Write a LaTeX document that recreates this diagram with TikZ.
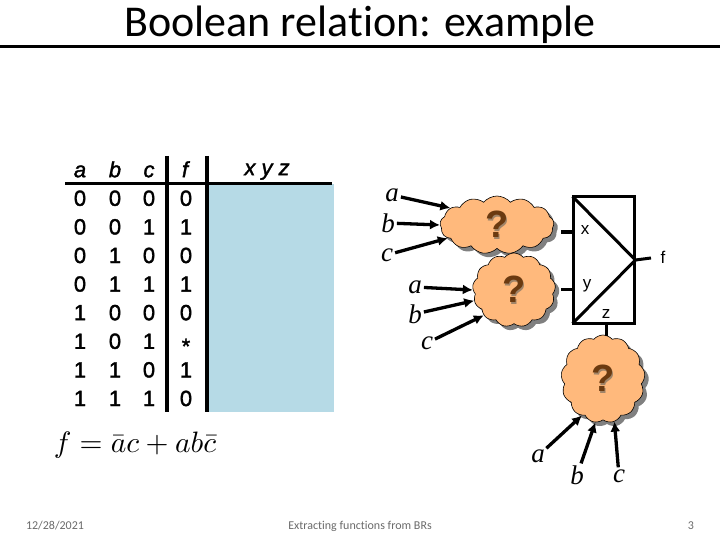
\documentclass[tikz,border=0pt]{standalone}
\usepackage{fontspec}
\usepackage{amsmath}
\setmainfont{Liberation Sans}
\newfontfamily\titlefont[Ligatures=NoCommon]{Carlito}
\newfontfamily\inputfont{Liberation Serif}
\newfontfamily\tablefont[FakeBold=1.6]{Liberation Sans}
\usetikzlibrary{arrows.meta,shapes.symbols,shadows}

\definecolor{puffcolor}{HTML}{FFB97C}
\definecolor{qcolor}{HTML}{6B3A10}
\definecolor{qshade}{HTML}{A08468}
\definecolor{tablecolor}{HTML}{B6DAE6}
\definecolor{footcolor}{HTML}{6A6A6A}

\newcommand{\qmark}{\makebox[0pt][l]{\hspace{1.5pt}\raisebox{-1.5pt}{\textcolor{qshade}{?}}}\textcolor{qcolor}{?}}

\tikzset{
  tablecol/.style={anchor=north, align=center, inner sep=0pt, font=\fontsize{22}{28.6}\selectfont\tablefont},
  heavy/.style={line width=3.5pt},
  puff/.style={cloud, draw=black, fill=puffcolor, line width=0.6pt, inner sep=0pt, cloud puff arc=100,
    font=\fontsize{38}{38}\selectfont\bfseries,
    drop shadow={shadow xshift=4pt, shadow yshift=-4pt, fill=black!50, opacity=1}},
  inputlabel/.style={font=\fontsize{27}{27}\selectfont\inputfont\itshape, inner sep=0pt},
  inarrow/.style={line width=3.3pt, -{Latex[length=10pt,width=10pt]}, shorten <=2pt},
  wire/.style={line width=3pt},
  pinlabel/.style={font=\fontsize{17}{17}\selectfont, inner sep=0pt},
  footer/.style={font=\fontsize{12}{12}\selectfont\titlefont, text=footcolor, inner sep=0pt}
}

\begin{document}
\begin{tikzpicture}[x=1pt, y=-1pt]
  \useasboundingbox (0,0) rectangle (720,540);

  % title
  \node[font=\fontsize{44}{44}\selectfont\titlefont, inner sep=0pt] (title) at (360,25) {Boolean relation: example};
  \coordinate (ruleleft) at (0,47);
  \coordinate (ruleright) at (720,47);
  \draw[line width=3pt] (ruleleft) -- (ruleright);

  % table
  \fill[tablecolor] (208,184) rectangle (334,412);
  \node[tablecol] (cola) at (80,157) {\strut\textit{a}\\0\\0\\0\\0\\1\\1\\1\\1};
  \node[tablecol] (colb) at (115,157) {\strut\textit{b}\\0\\0\\1\\1\\0\\0\\1\\1};
  \node[tablecol] (colc) at (149,157) {\strut\textit{c}\\0\\1\\0\\1\\0\\1\\0\\1};
  \node[tablecol] (colf) at (186,157) {\strut\textit{f}\\0\\1\\0\\1\\0\\\raisebox{-5pt}{*}\\1\\0};
  \node[tablecol] (colxyz) at (267,155) {\strut\textit{x y z}};
  \draw[heavy] (65,183.5) -- (332,183.5);
  \draw[heavy] (167,156) -- (167,412);
  \draw[heavy] (207,156) -- (207,412);
  \node[scale=2.95, inner sep=0pt] (eqn) at (135,445) {$f=\bar{a}c+ab\bar{c}$};

  % block
  \node[draw, line width=3pt, minimum width=61pt, minimum height=126pt, inner sep=0pt] (mux) at (603.5,260) {};
  \draw[wire, shorten <=1.5pt] (mux.north west) -- (mux.east);
  \draw[wire, shorten <=1.5pt] (mux.south west) -- (mux.east);
  \node[pinlabel] (xpin) at (585,230) {x};
  \node[pinlabel] (ypin) at (587,286) {y};
  \node[pinlabel] (zpin) at (606,314) {z};
  \node[pinlabel] (fout) at (663,257) {f};

  % clouds
  \node[puff, cloud puffs=13, aspect=2.2, minimum width=114pt, minimum height=58pt] (qone) at (497,225) {\qmark};
  \node[puff, cloud puffs=13, aspect=1.1, minimum width=83pt, minimum height=74pt] (qtwo) at (514,290) {\qmark};
  \node[puff, cloud puffs=13, aspect=1, minimum width=84pt, minimum height=88pt] (qthree) at (603,379) {\qmark};

  % wires into the block
  \coordinate (xstub) at (561,232);
  \coordinate (xend) at (573,232);
  \coordinate (ystub) at (561,289);
  \coordinate (yend) at (573,289);
  \coordinate (zstub) at (606,336);
  \coordinate (fend) at (651,258);
  \draw[wire] (xstub) -- (xend);
  \draw[wire] (ystub) -- (yend);
  \draw[wire] (mux.east) -- (fend);
  \draw[wire] (zstub) -- (zstub |- mux.south);

  % inputs
  \node[inputlabel] (aone) at (392,195) {a};
  \node[inputlabel] (bone) at (388,223) {b};
  \node[inputlabel] (cone) at (387,255) {c};
  \node[inputlabel] (atwo) at (415,287) {a};
  \node[inputlabel] (btwo) at (415,314) {b};
  \node[inputlabel] (ctwo) at (427,343) {c};
  \node[inputlabel] (athree) at (538,456) {a};
  \node[inputlabel] (bthree) at (577,475) {b};
  \node[inputlabel] (cthree) at (619,476) {c};
  \draw[inarrow] (aone) -- (qone.160);
  \draw[inarrow] (bone) -- (qone.west);
  \draw[inarrow] (cone) -- (qone.195);
  \draw[inarrow] (atwo) -- (qtwo.west);
  \draw[inarrow] (btwo) -- (qtwo.195);
  \draw[inarrow] (ctwo) -- (qtwo.220);
  \draw[inarrow] (athree) -- (qthree.240);
  \draw[inarrow] (bthree) -- (qthree.260);
  \draw[inarrow] (cthree) -- (qthree.285);

  % footer
  \node[footer] (date) at (55,526) {12/28/2021};
  \node[footer] (talk) at (360,526) {Extracting functions from BRs};
  \node[footer] (page) at (691,526) {3};
\end{tikzpicture}
\end{document}
